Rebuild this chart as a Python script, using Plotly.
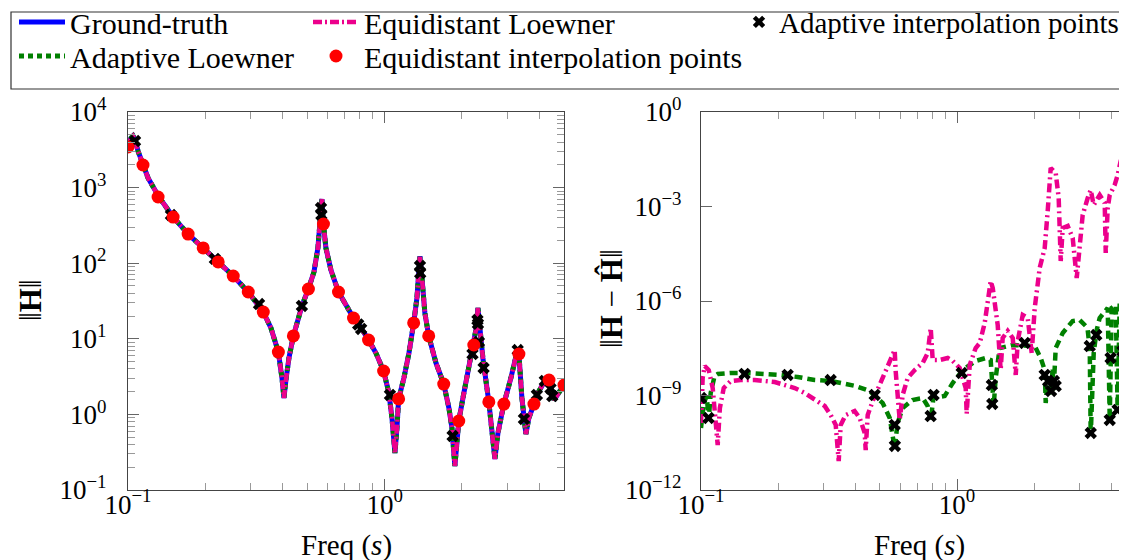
import plotly.graph_objects as go

# ---------------- data ----------------
# Left panel: ground-truth magnitude ||H|| vs frequency
gt_freq = [0.1000, 0.1027, 0.1046, 0.1065, 0.1094, 0.1144, 0.1197, 0.1320, 0.1499, 0.1715,
           0.1963, 0.2246, 0.2571, 0.2942, 0.3367, 0.3605, 0.3854, 0.3980, 0.4053, 0.4125,
           0.4238, 0.4410, 0.4760, 0.5047, 0.5305, 0.5495, 0.5597, 0.5697, 0.5776, 0.5905,
           0.6177, 0.6610, 0.7564, 0.8010, 0.8657, 0.9250, 0.9909, 1.039, 1.068, 1.097,
           1.117, 1.134, 1.189, 1.244, 1.298, 1.336, 1.360, 1.373, 1.398, 1.435,
           1.485, 1.585, 1.700, 1.780, 1.829, 1.878, 1.913, 1.945, 2.036, 2.130,
           2.226, 2.268, 2.310, 2.352, 2.415, 2.547, 2.618, 2.690, 2.764, 2.915,
           3.105, 3.248, 3.307, 3.336, 3.427, 3.552, 3.648, 3.818, 3.955, 4.210,
           4.369, 4.567, 5.000]
gt_mag = [3444, 4529, 4814, 4266, 3048, 1991, 1340, 751, 408, 243,
          159, 104, 67.7, 41.6, 22.6, 13.9, 6.68, 3.03, 1.65, 2.85,
          5.57, 10.9, 27.2, 45.6, 76.5, 159, 340, 706, 330, 159,
          81.3, 41.6, 18.8, 14.8, 9.64, 6.49, 3.75, 1.92, 0.895, 0.308,
          0.661, 1.60, 3.03, 6.49, 16.2, 34.7, 81.3, 124, 63.7, 21.9,
          10.9, 4.79, 2.52, 1.22, 0.661, 0.208, 0.419, 0.818, 1.92, 4.11,
          8.28, 13.1, 25.5, 11.9, 5.57, 1.46, 0.661, 0.257, 0.567, 1.37,
          3.03, 5.57, 7.55, 6.29, 1.65, 0.551, 0.895, 1.37, 1.92, 2.77,
          2.85, 1.55, 2.45]

# Equidistant interpolation points (left panel)
eq_freq = [0.1000, 0.1144, 0.1310, 0.1499, 0.1715, 0.1963, 0.2246, 0.2571, 0.2942, 0.3367,
           0.3854, 0.4410, 0.5047, 0.5776, 0.6610, 0.7564, 0.8657, 0.9909, 1.1338, 1.2976,
           1.4850, 1.6995, 1.9449, 2.2258, 2.5472, 2.9151, 3.3361, 3.8180, 4.3694, 5.0000]
eq_mag = [3444, 1991, 751, 408, 243, 159, 104, 67.7, 41.6, 22.6,
          6.68, 10.9, 45.6, 330, 41.6, 18.8, 9.64, 3.75, 1.60, 16.2,
          10.9, 2.52, 0.818, 8.28, 1.46, 1.37, 6.29, 1.37, 2.85, 2.45]

# Adaptive interpolation points (left panel)
ad_freq = [0.1000, 0.1065, 0.1470, 0.2180, 0.3240, 0.4760, 0.5650, 0.5670, 0.7890, 0.8100,
           1.049, 1.373, 1.376, 1.840, 2.200, 2.300, 2.310, 2.330, 2.430, 3.300,
           3.490, 3.920, 4.210, 4.430, 4.500]
ad_mag = [3656, 4130, 434, 114, 28.8, 27.2, 537, 434, 15.5, 13.5,
          1.81, 91.8, 74.0, 0.518, 6.29, 17.7, 15.8, 9.07, 4.11, 7.1,
          0.869, 1.81, 2.77, 2.2, 1.75]

# Right panel: error of the equidistant Loewner model
eqerr_freq = [0.1000, 0.1015, 0.1034, 0.1072, 0.1111, 0.1141, 0.1162, 0.1185, 0.1227, 0.1306,
              0.1429, 0.1621, 0.1774, 0.1941, 0.2123, 0.2323, 0.2541, 0.2780, 0.3042, 0.3211,
              0.3359, 0.3451, 0.3513, 0.3674, 0.3981, 0.4168, 0.4360, 0.4399, 0.4479, 0.4685,
              0.4990, 0.5266, 0.5508, 0.5709, 0.5760, 0.5861, 0.5972, 0.6135, 0.6417, 0.6837,
              0.7345, 0.7683, 0.7894, 0.8036, 0.8559, 0.9199, 0.9620, 1.0245, 1.0814, 1.0910,
              1.121, 1.183, 1.227, 1.283, 1.318, 1.354, 1.379, 1.416, 1.442, 1.481,
              1.508, 1.578, 1.651, 1.696, 1.727, 1.806, 1.889, 1.958, 2.012, 2.104,
              2.201, 2.261, 2.323, 2.430, 2.496, 2.542, 2.588, 2.707, 2.831, 2.935,
              3.015, 3.097, 3.240, 3.329, 3.420, 3.513, 3.609, 3.776, 3.810, 3.879,
              3.950, 4.130, 4.243, 4.359, 4.438, 4.478, 4.560, 4.644, 4.857, 4.940]
eqerr_val = [1.34e-10, 3.6e-9, 8.65e-9, 6.45e-9, 1.73e-9, 1.93e-10, 2.68e-11, 4.01e-10, 1.73e-9, 2.88e-9,
             3.1e-9, 3.1e-9, 2.88e-9, 2.68e-9, 2.15e-9, 1.73e-9, 1.2e-9, 7.2e-10, 4.64e-10, 2.4e-10,
             1.16e-10, 8.3e-12, 1.16e-10, 2.4e-10, 3.22e-10, 1.93e-10, 6.45e-11, 1.86e-11, 2.4e-10, 6.68e-10,
             2.15e-9, 6.0e-9, 1.55e-8, 2.78e-8, 6.0e-9, 6.68e-10, 1.67e-10, 1.04e-9, 3.6e-9, 6.45e-9,
             1.08e-8, 2.23e-8, 1.39e-7, 1.34e-8, 1.34e-8, 1.55e-8, 1.25e-8, 7.47e-9, 1.73e-9, 2.59e-10,
             9.3e-9, 3.22e-8, 4.64e-8, 2.0e-7, 8.65e-7, 4.31e-6, 2.59e-6, 6.0e-7, 1.73e-7, 6.45e-9,
             6.68e-8, 1.12e-7, 6.68e-8, 4.48e-9, 5.37e-8, 3.6e-7, 2.89e-7, 2.23e-8, 6.0e-7, 1.12e-5,
             4.82e-5, 7.2e-4, 1.67e-2, 1.16e-2, 1.86e-3, 1.86e-5, 2.08e-4, 2.4e-4, 1.0e-4, 5.37e-6,
             6.0e-5, 5.37e-4, 1.86e-3, 3.34e-3, 1.12e-3, 1.61e-3, 2.32e-3, 1.29e-3, 3.34e-5, 8.96e-4,
             2.32e-3, 4.82e-3, 1.0e-2, 2.78e-2, 4.31e-2, 1.5e-3, 3.47e-2, 2.99e-2, 2.08e-2, 2.08e-4]

# Right panel: error of the adaptive Loewner model
aderr_freq = [0.1000, 0.1025, 0.1053, 0.1072, 0.1091, 0.1130, 0.1162, 0.1306, 0.1520, 0.1774,
              0.2050, 0.2385, 0.2780, 0.3211, 0.3646, 0.4020, 0.4560, 0.5126, 0.5459, 0.5709,
              0.5861, 0.6135, 0.6703, 0.7345, 0.7683, 0.7894, 0.8090, 0.8951, 0.9620, 1.053,
              1.183, 1.295, 1.354, 1.379, 1.391, 1.416, 1.468, 1.651, 1.855, 2.012,
              2.123, 2.201, 2.221, 2.261, 2.323, 2.365, 2.383, 2.430, 2.588, 2.831,
              3.015, 3.182, 3.240, 3.300, 3.329, 3.420, 3.513, 3.609, 3.879, 3.950,
              4.020, 4.169, 4.243, 4.320, 4.438, 4.560, 4.644, 4.770, 4.857, 4.940]
aderr_val = [9.3e-11, 5.78e-10, 9.64e-10, 1.67e-10, 1.2e-9, 4.16e-9, 4.82e-9, 5.18e-9, 5.18e-9, 4.82e-9,
             4.48e-9, 3.87e-9, 3.1e-9, 2.88e-9, 2.32e-9, 2.0e-9, 1.39e-9, 5.78e-10, 1.93e-10, 2.15e-11,
             1.34e-10, 4.0e-10, 7.2e-10, 8.3e-10, 4.64e-10, 1.67e-10, 8.3e-10, 9.64e-10, 2.49e-9, 6.45e-9,
             1.25e-8, 1.55e-8, 1.34e-8, 2.0e-9, 4.64e-10, 3.6e-9, 3.22e-8, 4.01e-8, 4.01e-8, 3.72e-8,
             1.55e-8, 6.45e-9, 5.78e-10, 3.6e-9, 9.64e-10, 7.47e-9, 1.39e-9, 3.22e-8, 9.64e-8, 2.32e-7,
             2.49e-7, 1.61e-7, 1.2e-7, 3.22e-8, 5.18e-11, 2.23e-8, 1.2e-7, 2.89e-7, 6.0e-7, 1.67e-10,
             6.0e-7, 7.47e-7, 2.78e-10, 8.65e-7, 1.25e-6, 1.08e-10, 1.08e-6, 1.25e-6, 4.48e-11, 1.78e-6]

# Adaptive interpolation points (right panel)
adpt_freq = [0.1000, 0.1070, 0.1480, 0.2180, 0.3210, 0.4770, 0.5710, 0.5720, 0.7890, 0.8100,
             1.043, 1.368, 1.373, 1.838, 2.200, 2.270, 2.330, 2.390, 2.430, 3.300,
             3.330, 3.500, 3.950, 3.980, 4.240, 4.430, 4.550, 4.720, 4.850]
adpt_err = [8.3e-10, 1.93e-10, 4.82e-9, 4.48e-9, 3.1e-9, 1.04e-9, 1.16e-10, 2.5e-11, 2.23e-10, 1.04e-9,
            5.18e-9, 2.15e-9, 5.37e-10, 4.64e-8, 4.48e-9, 2.88e-9, 1.39e-9, 2.88e-9, 2.0e-9, 3.72e-8,
            6.45e-11, 8.3e-8, 1.67e-10, 1.55e-8, 3.47e-10, 2.58e-8, 1.34e-10, 4.0e-8, 5.18e-11]

# Tick labels
left_y_vals = [0.1, 1, 10, 100, 1000, 10000]
left_y_text = ['10<sup>−1</sup>', '10<sup>0</sup>', '10<sup>1</sup>', '10<sup>2</sup>',
               '10<sup>3</sup>', '10<sup>4</sup>']
right_y_vals = [1e-12, 1e-9, 1e-6, 1e-3, 1]
right_y_text = ['10<sup>−12</sup>', '10<sup>−9</sup>', '10<sup>−6</sup>', '10<sup>−3</sup>',
                '10<sup>0</sup>']
x_vals = [0.1, 1]
x_text = ['10<sup>−1</sup>', '10<sup>0</sup>']

# ---------------- styling ----------------
W, H = 1127, 560
FONT = 'Liberation Serif'
BLUE = '#0000FF'
GREEN = '#008000'
PINK = '#EC008C'
RED = '#FF0000'

def px_x(p):
    return p / W

def px_y(p):
    return 1 - p / H

x_minor = [0.2, 0.3, 0.4, 0.5, 0.6, 0.7, 0.8, 0.9, 2, 3, 4, 5, 6, 7, 8, 9]
y_minor = [m * 10 ** e for e in range(-1, 4) for m in range(2, 10)]

fig = go.Figure()

# ---- left panel ----
fig.add_trace(go.Scatter(x=gt_freq, y=gt_mag, mode='lines', name='Ground-truth',
                         line=dict(color=BLUE, width=5), xaxis='x', yaxis='y',
                         legend='legend'))
fig.add_trace(go.Scatter(x=gt_freq, y=gt_mag, mode='lines', name='Adaptive Loewner',
                         line=dict(color=GREEN, width=5, dash='5px,4px'), xaxis='x', yaxis='y',
                         legend='legend2'))
fig.add_trace(go.Scatter(x=gt_freq, y=gt_mag, mode='lines', name='Equidistant Loewner',
                         line=dict(color=PINK, width=4.5, dash='9px,3px,2px,3px'), xaxis='x', yaxis='y',
                         legend='legend3'))
fig.add_trace(go.Scatter(x=ad_freq, y=ad_mag, mode='markers', name='Adaptive interpolation points',
                         marker=dict(symbol='x', size=11, color='black', line=dict(width=0)),
                         xaxis='x', yaxis='y', legend='legend5'))
fig.add_trace(go.Scatter(x=eq_freq, y=eq_mag, mode='markers', name='Equidistant interpolation points',
                         marker=dict(symbol='circle', size=13, color=RED, line=dict(width=0)),
                         xaxis='x', yaxis='y', legend='legend4'))

# ---- right panel ----
fig.add_trace(go.Scatter(x=aderr_freq, y=aderr_val, mode='lines', showlegend=False,
                         line=dict(color=GREEN, width=4.5, dash='8px,5px'), xaxis='x2', yaxis='y2'))
fig.add_trace(go.Scatter(x=eqerr_freq, y=eqerr_val, mode='lines', showlegend=False,
                         line=dict(color=PINK, width=4.5, dash='9px,4px,2px,4px'), xaxis='x2', yaxis='y2'))
fig.add_trace(go.Scatter(x=adpt_freq, y=adpt_err, mode='markers', showlegend=False,
                         marker=dict(symbol='x', size=11, color='black', line=dict(width=0)),
                         xaxis='x2', yaxis='y2'))

axis_common = dict(type='log', showline=True, linecolor='#444', linewidth=1.2, mirror='ticks',
                   ticks='inside', ticklen=11, tickwidth=1, tickcolor='#666', showgrid=False,
                   zeroline=False, tickmode='array', automargin=False,
                   tickfont=dict(family=FONT, size=27, color='black'))

ydom = [px_y(482), px_y(104)]


def leg(xpx, ypx, iw=30, fs=30):
    return dict(x=px_x(xpx), y=px_y(ypx), xanchor='left', yanchor='middle', orientation='v',
                font=dict(family=FONT, size=fs, color='black'), bgcolor='rgba(0,0,0,0)',
                borderwidth=0, itemwidth=iw)


fig.update_layout(
    width=W, height=H, margin=dict(l=0, r=0, t=0, b=0, autoexpand=False),
    plot_bgcolor='white', paper_bgcolor='white',
    xaxis=dict(**axis_common, domain=[px_x(120), px_x(556)], range=[-1, 0.69897],
               tickvals=x_vals, ticktext=x_text, anchor='y', ticklabelstandoff=-10,
               minor=dict(tickmode='array', tickvals=x_minor, ticks='inside', ticklen=7,
                          tickcolor='#999', showgrid=False)),
    yaxis=dict(**axis_common, domain=ydom, range=[-1, 4], anchor='x',
               tickvals=left_y_vals, ticktext=left_y_text, ticklabelstandoff=15,
               minor=dict(tickmode='array', tickvals=y_minor, ticks='inside', ticklen=7,
                          tickcolor='#999', showgrid=False)),
    xaxis2=dict(**axis_common, domain=[px_x(693), 1.0], range=[-1, -1 + (1127 - 693) / 256.0],
                tickvals=x_vals, ticktext=x_text, anchor='y2', ticklabelstandoff=-10,
                minor=dict(tickmode='array', tickvals=x_minor, ticks='inside', ticklen=7,
                           tickcolor='#999', showgrid=False)),
    yaxis2=dict(**axis_common, domain=ydom, range=[-12, 0], anchor='x2',
                tickvals=right_y_vals, ticktext=right_y_text, ticklabelstandoff=13),
    legend=leg(6, 14, 46),
    legend2=leg(6, 48, 46),
    legend3=leg(300, 14, 46),
    legend4=leg(300, 48, 46),
    legend5=leg(731, 14, 30, 29),
    shapes=[dict(type='rect', xref='paper', yref='paper',
                 x0=px_x(3), x1=px_x(1124), y0=px_y(81), y1=px_y(4),
                 line=dict(color='#333', width=1.2), fillcolor='rgba(0,0,0,0)')],
    annotations=[
        dict(text='Freq (<i>s</i>)', x=px_x(338), y=px_y(537), xref='paper', yref='paper',
             xanchor='center', yanchor='middle',
             showarrow=False, font=dict(family=FONT, size=29, color='black')),
        dict(text='Freq (<i>s</i>)', x=px_x(911), y=px_y(537), xref='paper', yref='paper',
             xanchor='center', yanchor='middle',
             showarrow=False, font=dict(family=FONT, size=29, color='black')),
        dict(text='‖<b>H</b>‖', x=px_x(22), y=px_y(292), xref='paper', yref='paper',
             xanchor='center', yanchor='middle',
             showarrow=False, textangle=-90, font=dict(family=FONT, size=31, color='black')),
        dict(text='‖<b>H</b> − <b>Ĥ</b>‖', x=px_x(603), y=px_y(290), xref='paper', yref='paper',
             xanchor='center', yanchor='middle',
             showarrow=False, textangle=-90, font=dict(family=FONT, size=31, color='black')),
    ],
)

fig.write_html('out.html')
